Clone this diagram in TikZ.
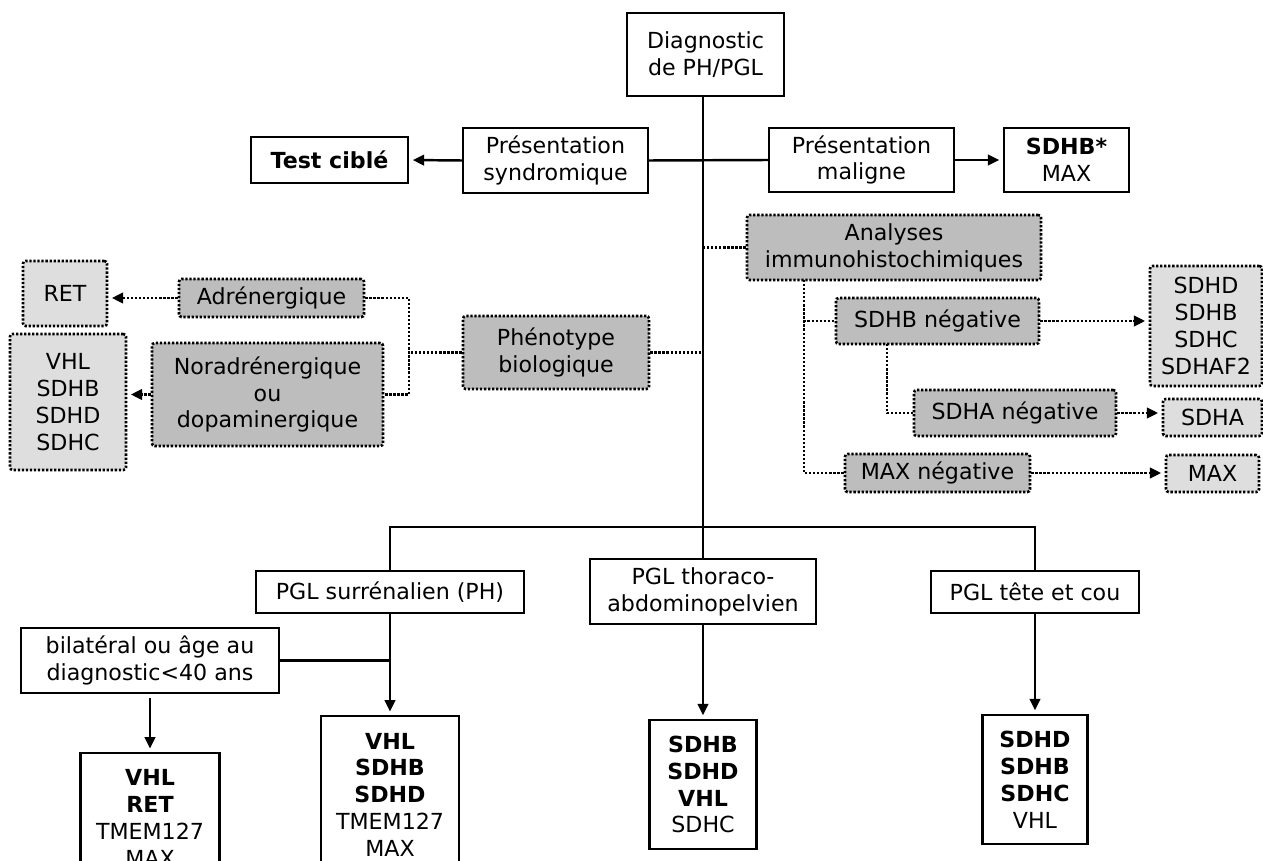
\documentclass[tikz,border=0pt]{standalone}
\usepackage{fontspec}
\setmainfont{DejaVu Sans}
\usepackage{tikz}
\usetikzlibrary{arrows.meta,positioning,calc}
\usepackage{xcolor}
\definecolor{greydark}{gray}{0.74}
\definecolor{greylight}{gray}{0.87}

\begin{document}
\begin{tikzpicture}[x=0.02cm, y=-0.02cm,
      box/.style={draw, line width=1.4pt, align=center, inner sep=1pt, font=\fontsize{12.6}{15.3}\selectfont, fill=white},
      dotbox/.style={draw, line width=1.5pt, dash pattern=on 1.3pt off 1pt, rounded corners=1.5pt, align=center, inner sep=1pt, font=\fontsize{12.6}{15.3}\selectfont, fill=greydark},
      resbox/.style={dotbox, fill=greylight},
      arrowstyle/.style={-{Triangle[length=6.5pt,width=6pt]}, line width=1.4pt, shorten >=2pt},
      line/.style={line width=1.4pt},
      dotline/.style={line width=1.5pt, dash pattern=on 1.3pt off 1pt},
      dotarrow/.style={dotline, -{Triangle[length=6.5pt,width=6pt]}, shorten >=2pt}
    ]
    \useasboundingbox (0,0) rectangle (1263,861);
    \clip (0,0) rectangle (1263,861);

    % top
    \node[box, minimum width=3.14cm, minimum height=1.66cm] (diag) at (705.5,54.5) {Diagnostic\\de PH/PGL};
    \node[box, minimum width=3.7cm, minimum height=1.3cm] (syndr) at (555.5,160.5) {Présentation\\syndromique};
    \node[box, minimum width=3.7cm, minimum height=1.28cm] (malig) at (861.5,160) {Présentation\\maligne};
    \node[box, minimum width=3.14cm, minimum height=0.92cm] (test) at (329.5,160) {\textbf{Test ciblé}};
    \node[box, minimum width=2.5cm, minimum height=1.28cm] (sdhbstar) at (1066.5,160) {\textbf{SDHB*}\\MAX};

    % phenotype
    \node[dotbox, minimum width=3.72cm, minimum height=1.46cm] (pheno) at (556,352.5) {Phénotype\\biologique};
    \node[dotbox, minimum width=3.7cm, minimum height=0.76cm] (adren) at (271.5,298) {Adrénergique};
    \node[dotbox, minimum width=4.62cm, minimum height=2.06cm] (noradr) at (267.5,394.5) {Noradrénergique\\ou\\dopaminergique};
    \node[resbox, minimum width=1.68cm, minimum height=1.3cm] (ret) at (65,293.5) {RET};
    \node[resbox, minimum width=2.32cm, minimum height=2.72cm] (vhlsdh) at (68,402) {VHL\\SDHB\\SDHD\\SDHC};

    % immunohistochimie
    \node[dotbox, minimum width=5.88cm, minimum height=1.3cm] (immuno) at (894,247.5) {Analyses\\immunohistochimiques};
    \node[dotbox, minimum width=4.06cm, minimum height=0.92cm] (sdhbneg) at (937.5,321) {SDHB négative};
    \node[dotbox, minimum width=4.04cm, minimum height=0.92cm] (sdhaneg) at (1015,413) {SDHA négative};
    \node[dotbox, minimum width=3.7cm, minimum height=0.76cm] (maxneg) at (937.5,473) {MAX négative};
    \node[resbox, minimum width=2.24cm, minimum height=2.4cm] (sdhres) at (1206,326) {SDHD\\SDHB\\SDHC\\SDHAF2};
    \node[resbox, minimum width=1.98cm, minimum height=0.74cm] (sdhares) at (1212.5,417.5) {SDHA};
    \node[resbox, minimum width=1.86cm, minimum height=0.74cm] (maxres) at (1212.5,473.5) {MAX};

    % localisation
    \node[box, minimum width=5.36cm, minimum height=0.84cm] (surren) at (390,592) {PGL surrénalien (PH)};
    \node[box, minimum width=4.52cm, minimum height=1.3cm] (thorac) at (703,591.5) {PGL thoraco-\\abdominopelvien};
    \node[box, minimum width=4.16cm, minimum height=0.84cm] (tete) at (1035,592) {PGL tête et cou};
    \node[box, minimum width=5.16cm, minimum height=1.3cm] (bilat) at (150,660.5) {bilatéral ou âge au\\diagnostic<40 ans};
    \node[box, anchor=north, minimum width=2.78cm, minimum height=2.6cm] (resbilat) at (150,752) {\textbf{VHL}\\\textbf{RET}\\TMEM127\\MAX};
    \node[box, anchor=north, minimum width=2.76cm, minimum height=3.14cm] (ressurren) at (390,715) {\textbf{VHL}\\\textbf{SDHB}\\\textbf{SDHD}\\TMEM127\\MAX};
    \node[box, minimum width=2.14cm, minimum height=2.58cm] (resthorac) at (703,784.5) {\textbf{SDHB}\\\textbf{SDHD}\\\textbf{VHL}\\SDHC};
    \node[box, minimum width=2.1cm, minimum height=2.58cm] (restete) at (1035,779.5) {\textbf{SDHD}\\\textbf{SDHB}\\\textbf{SDHC}\\VHL};

    \coordinate (pj) at (409,352.5);
    \coordinate (ij) at (804,280);
    \coordinate (sj) at (887,344);
    \coordinate (bar) at (703,527);

    \draw[line] (diag.south -| thorac.north) -- (thorac.north);
    \draw[line] (syndr.east) -- (malig.west);
    \draw[arrowstyle] (syndr.west) -- (test.east);
    \draw[arrowstyle] (malig.east) -- (sdhbstar.west);

    \draw[dotline] (pheno.east) -- (pheno.east -| bar);
    \draw[dotline] (pheno.west) -- (pj);
    \draw[dotline] (adren.east) -| (pj) |- (noradr.east);
    \draw[dotarrow] (adren.west) -- (adren.west -| ret.east);
    \draw[dotarrow] (noradr.west) -- (noradr.west -| vhlsdh.east);

    \draw[dotline] (immuno.west) -- (immuno.west -| bar);
    \draw[dotline] (ij) |- (sdhbneg.west);
    \draw[dotline] (ij) |- (maxneg.west);
    \draw[dotline] (sj) |- (sdhaneg.west);
    \draw[dotarrow] (sdhbneg.east) -- (sdhbneg.east -| sdhres.west);
    \draw[dotarrow] (sdhaneg.east) -- (sdhaneg.east -| sdhares.west);
    \draw[dotarrow] (maxneg.east) -- (maxneg.east -| maxres.west);

    \draw[line] (surren.north) |- (bar) -| (tete.north);
    \draw[line] (bilat.east) -- (bilat.east -| surren.south);
    \draw[arrowstyle] (surren.south) -- (ressurren.north);
    \draw[arrowstyle, shorten <=2pt] (bilat.south) -- (resbilat.north);
    \draw[arrowstyle] (thorac.south) -- (resthorac.north);
    \draw[arrowstyle] (tete.south) -- (restete.north);
\end{tikzpicture}
\end{document}
